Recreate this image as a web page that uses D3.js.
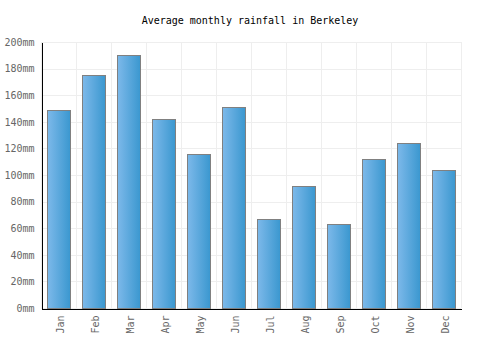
<!DOCTYPE html>
<html>
<head>
<meta charset="utf-8">
<script src="https://cdn.jsdelivr.net/npm/d3@7"></script>
<style>
  html, body { margin: 0; padding: 0; background: #fff; }
  svg { display: block; }
  text { font-family: "DejaVu Sans Mono", monospace; }
</style>
</head>
<body>
<svg id="chart" width="500" height="350"></svg>
<script>
const months = ["Jan","Feb","Mar","Apr","May","Jun","Jul","Aug","Sep","Oct","Nov","Dec"];
const rainfall = [149, 175, 190, 142, 116, 151, 67, 92, 63, 112, 124, 104];
const yTicks = [0, 20, 40, 60, 80, 100, 120, 140, 160, 180, 200];
const title = "Average monthly rainfall in Berkeley";

const svg = d3.select("#chart");
const m = { left: 41, right: 39, top: 42, bottom: 42 };
const W = 500, H = 350;

const x = d3.scaleBand().domain(months).range([m.left, W - m.right]).paddingInner(0).paddingOuter(0);
const y = d3.scaleLinear().domain([0, 200]).range([H - m.bottom, m.top]);

const defs = svg.append("defs");
const grad = defs.append("linearGradient").attr("id", "barGrad")
  .attr("x1", "0%").attr("x2", "100%").attr("y1", "0%").attr("y2", "0%");
grad.append("stop").attr("offset", "0%").attr("stop-color", "#7db9ea");
grad.append("stop").attr("offset", "100%").attr("stop-color", "#3a97cf");

// grid
const grid = svg.append("g").attr("shape-rendering", "crispEdges");
grid.selectAll("line.h").data(yTicks).join("line")
  .attr("x1", m.left).attr("x2", W - m.right)
  .attr("y1", d => Math.round(y(d)) + 0.5).attr("y2", d => Math.round(y(d)) + 0.5)
  .attr("stroke", "#eeeeee").attr("stroke-width", 1);
const vlines = months.map(mo => x(mo)).concat([x(months[months.length - 1]) + x.bandwidth()]);
grid.selectAll("line.v").data(vlines).join("line")
  .attr("x1", d => Math.round(d) + 0.5).attr("x2", d => Math.round(d) + 0.5)
  .attr("y1", m.top).attr("y2", H - m.bottom)
  .attr("stroke", "#eeeeee").attr("stroke-width", 1);

// title
svg.append("text").attr("x", 250).attr("y", 24).attr("text-anchor", "middle")
  .attr("font-size", 10).attr("fill", "#000").text(title);

// bars
const bw = x.bandwidth() * 0.67;
svg.append("g").selectAll("rect").data(months).join("rect")
  .attr("x", (d) => Math.round(x(d) + (x.bandwidth() - bw) / 2) + 0.5)
  .attr("width", Math.round(bw))
  .attr("y", (d, i) => Math.round(y(rainfall[i])) + 0.5)
  .attr("height", (d, i) => Math.round(y(0)) - Math.round(y(rainfall[i])))
  .attr("fill", "url(#barGrad)")
  .attr("stroke", "#808080").attr("stroke-width", 1);

// y axis
const yAxis = d3.axisLeft(y).tickValues(yTicks).tickSize(0).tickPadding(7).tickFormat(d => d + "mm");
const gy = svg.append("g").attr("transform", `translate(${m.left + 0.5},0)`).call(yAxis);
gy.select(".domain").attr("stroke", "#000").attr("shape-rendering", "crispEdges");
gy.selectAll("text").attr("font-size", 10).attr("fill", "#666").attr("font-family", "DejaVu Sans Mono, monospace");

// x axis
const xAxis = d3.axisBottom(x).tickSize(0).tickPadding(0);
const gx = svg.append("g").attr("transform", `translate(0,${H - m.bottom + 0.5})`).call(xAxis);
gx.select(".domain").attr("stroke", "#000").attr("shape-rendering", "crispEdges");
gx.selectAll("text")
  .attr("font-size", 10).attr("fill", "#666").attr("font-family", "DejaVu Sans Mono, monospace")
  .attr("text-anchor", "end").attr("dy", null)
  .attr("transform", "translate(5,7) rotate(-90)")
  .attr("x", 0).attr("y", 0);
</script>
</body>
</html>
